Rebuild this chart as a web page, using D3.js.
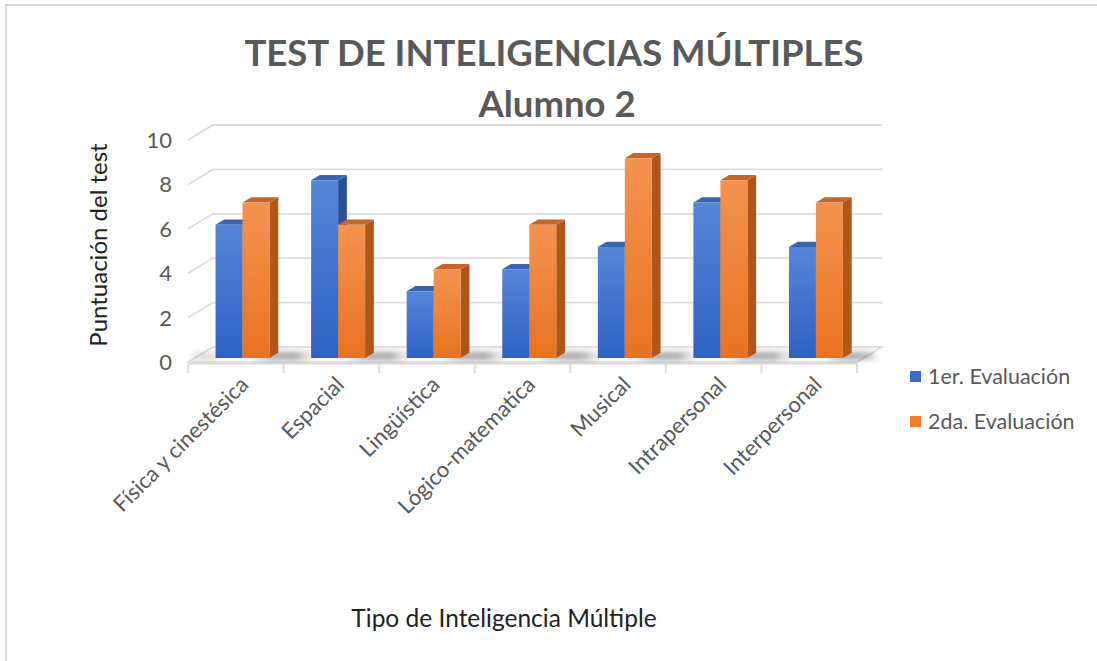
<!DOCTYPE html>
<html>
<head>
<meta charset="utf-8">
<script src="https://cdn.jsdelivr.net/npm/d3@7"></script>
<style>
  body { margin: 0; background: #fff; }
  text { font-family: Lato, "Open Sans", sans-serif; }
</style>
</head>
<body>
<div id="chart"></div>
<script>
const categories = ['Física y cinestésica', 'Espacial', 'Lingüística', 'Lógico-matematica', 'Musical', 'Intrapersonal', 'Interpersonal'];
const primeraEval = [6, 8, 3, 4, 5, 7, 5];
const segundaEval = [7, 6, 4, 6, 9, 8, 7];
const seriesNames = ['1er. Evaluación', '2da. Evaluación'];
const yTicks = [0, 2, 4, 6, 8, 10];

const W = 1097, H = 661;
// depth offset of the 3d box (back wall relative to front plane)
const DX = 25, DY = -15;

const svg = d3.select('#chart').append('svg')
    .attr('width', W).attr('height', H);

svg.append('rect').attr('width', W).attr('height', H).attr('fill', '#fff');

const defs = svg.append('defs');
const gradients = [
    {id: 'g0', top: '#5585d6', bottom: '#2f62c6'},
    {id: 'g1', top: '#f39350', bottom: '#ea7220'}
];
gradients.forEach(g => {
    const lg = defs.append('linearGradient').attr('id', g.id)
        .attr('x1', 0).attr('y1', 0).attr('x2', 0).attr('y2', 1);
    lg.append('stop').attr('offset', '0%').attr('stop-color', g.top);
    lg.append('stop').attr('offset', '100%').attr('stop-color', g.bottom);
});
defs.append('filter').attr('id', 'blur')
    .attr('x', '-50%').attr('y', '-200%').attr('width', '200%').attr('height', '500%')
    .append('feGaussianBlur').attr('stdDeviation', 3);

const sideColors = ['#2b4f96', '#b0561a'];
const topColors = ['#3b63b0', '#c4662a'];

// outer frame
svg.append('path')
    .attr('d', `M6,${H} V5 H${W}`)
    .attr('fill', 'none').attr('stroke', '#d9d9d9').attr('stroke-width', 2);

const x = d3.scaleBand().domain(categories).range([188, 857]);
const y = d3.scaleLinear().domain([0, 10]).range([362, 140]);
const xs = d3.scaleBand().domain(seriesNames).range([0, x.bandwidth()]).paddingOuter(0.77);

// project a front-plane point back by depth fraction d
const P = (px, py, d) => [px + DX * d, py + DY * d];

// back wall gridlines + side wall diagonals
const grid = svg.append('g');
yTicks.forEach(t => {
    const yf = y(t);
    const a = P(x.range()[0], yf, 0), b = P(x.range()[0], yf, 1), c = P(x.range()[1], yf, 1);
    if (t > 0) {
        grid.append('path')
            .attr('d', `M${a[0]},${a[1]} L${b[0]},${b[1]} L${c[0]},${c[1]}`)
            .attr('fill', 'none').attr('stroke', '#dcdcdc').attr('stroke-width', 1.8);
    }
});

// floor
const f0 = P(x.range()[0], y(0), 0), f1 = P(x.range()[1], y(0), 0),
      f2 = P(x.range()[1], y(0), 1), f3 = P(x.range()[0], y(0), 1);
svg.append('path')
    .attr('d', `M${f0} L${f1} L${f2} L${f3} Z`)
    .attr('fill', '#fafafa').attr('stroke', '#d8d8d8').attr('stroke-width', 1.5);
svg.append('line')
    .attr('x1', f0[0]).attr('x2', f1[0]).attr('y1', f0[1] + 1.5).attr('y2', f1[1] + 1.5)
    .attr('stroke', '#dcdcdc').attr('stroke-width', 2);

// category tick marks at band boundaries
const bounds = categories.map(c => x(c)).concat([x.range()[1]]);
svg.append('g').selectAll('line').data(bounds).join('line')
    .attr('x1', d => d).attr('x2', d => d)
    .attr('y1', y(0) + 2).attr('y2', y(0) + 11)
    .attr('stroke', '#dcdcdc').attr('stroke-width', 2);

// bars
const D0 = 0.27, D1 = 0.62;
const barData = [];
categories.forEach((c, i) => {
    [primeraEval[i], segundaEval[i]].forEach((v, s) => {
        barData.push({cat: c, serie: s, value: v});
    });
});

// floor shadows
svg.append('g').selectAll('ellipse').data(categories).join('ellipse')
    .attr('cx', c => x(c) + xs(seriesNames[1]) + xs.bandwidth() + 16)
    .attr('cy', y(0) - 6)
    .attr('rx', 24).attr('ry', 3)
    .attr('fill', '#555').attr('opacity', 0.65)
    .attr('filter', 'url(#blur)');
svg.append('g').selectAll('ellipse').data(categories).join('ellipse')
    .attr('cx', c => x(c) + xs(seriesNames[0]) - 4)
    .attr('cy', y(0) - 6)
    .attr('rx', 14).attr('ry', 2.5)
    .attr('fill', '#777').attr('opacity', 0.4)
    .attr('filter', 'url(#blur)');

const bars = svg.append('g').selectAll('g').data(barData).join('g');

bars.each(function(d) {
    const g = d3.select(this);
    const x0 = x(d.cat) + xs(seriesNames[d.serie]);
    const x1 = x0 + xs.bandwidth();
    const yb = y(0), yt = y(d.value);
    const bl = P(x0, yb, D0), br = P(x1, yb, D0), tl = P(x0, yt, D0), tr = P(x1, yt, D0);
    const brB = P(x1, yb, D1), trB = P(x1, yt, D1), tlB = P(x0, yt, D1);
    g.append('path')
        .attr('d', `M${br} L${brB} L${trB} L${tr} Z`)
        .attr('fill', sideColors[d.serie]);
    g.append('path')
        .attr('d', `M${tl} L${tr} L${trB} L${tlB} Z`)
        .attr('fill', topColors[d.serie]);
    g.append('path')
        .attr('d', `M${bl} L${br} L${tr} L${tl} Z`)
        .attr('fill', `url(#g${d.serie})`);
});

// y tick labels
svg.append('g').selectAll('text').data(yTicks).join('text')
    .attr('x', 172).attr('y', d => y(d) + 8)
    .attr('text-anchor', 'end')
    .attr('font-size', 22).attr('fill', '#595959')
    .text(d => d);

// category labels
svg.append('g').selectAll('text').data(categories).join('text')
    .attr('transform', c => `translate(${x(c) + x.bandwidth() / 2 + 14},${y(0) + 24}) rotate(-45)`)
    .attr('text-anchor', 'end')
    .attr('font-size', 22).attr('fill', '#595959')
    .text(c => c);

// titles
svg.append('text')
    .attr('x', 554).attr('y', 66)
    .attr('text-anchor', 'middle').attr('font-size', 36.5).attr('font-weight', 'bold')
    .attr('fill', '#595959')
    .text('TEST DE INTELIGENCIAS MÚLTIPLES');
svg.append('text')
    .attr('x', 557).attr('y', 117)
    .attr('text-anchor', 'middle').attr('font-size', 36.5).attr('font-weight', 'bold')
    .attr('fill', '#595959')
    .text('Alumno 2');

svg.append('text')
    .attr('transform', 'translate(107,245) rotate(-90)')
    .attr('text-anchor', 'middle').attr('font-size', 24).attr('fill', '#222')
    .text('Puntuación del test');

svg.append('text')
    .attr('x', 504).attr('y', 627)
    .attr('text-anchor', 'middle').attr('font-size', 24.5).attr('fill', '#222')
    .text('Tipo de Inteligencia Múltiple');

// legend
const legend = svg.append('g').selectAll('g').data(seriesNames).join('g')
    .attr('transform', (d, i) => `translate(910,${371 + i * 45})`);
legend.append('rect').attr('width', 11).attr('height', 11)
    .attr('fill', (d, i) => i === 0 ? '#3a6ccb' : '#f07d2e');
legend.append('text')
    .attr('x', 18).attr('y', 13)
    .attr('font-size', 21.5).attr('fill', '#595959')
    .text(d => d);
</script>
</body>
</html>
